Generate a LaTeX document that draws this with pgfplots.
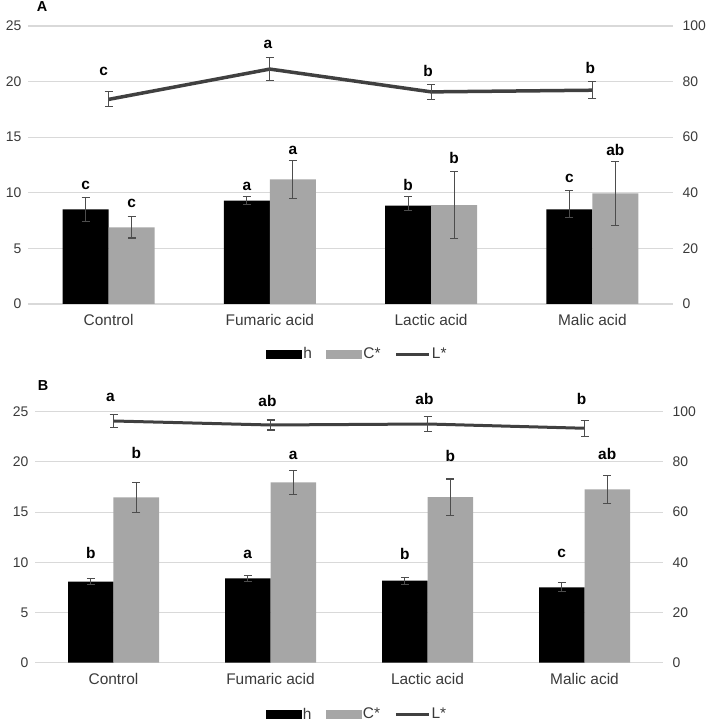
\documentclass[border=0pt]{standalone}
\usepackage{fontspec}
\setmainfont{Liberation Sans}
\usepackage{pgfplots}
\pgfplotsset{compat=1.18}
\definecolor{cgray}{HTML}{A6A6A6}
\definecolor{lgray}{HTML}{404040}
\definecolor{egray}{HTML}{4D4D4D}
\definecolor{gridc}{HTML}{D9D9D9}
\definecolor{tickc}{HTML}{3A3A3A}
\newcommand{\lf}{\bfseries\fontsize{15.5}{18}\selectfont}
\pgfplotsset{
  base/.style={scale only axis, xmin=-0.5, xmax=3.5, clip=false,
    axis line style={draw=none}, major tick length=0,
    tick label style={font=\fontsize{14}{16}\selectfont, text=tickc},
    /pgf/number format/assume math mode=true},
  leftax/.style={base, ymin=0, ymax=25, ytick={0,5,...,25},
    xtick={0,1,2,3}, xticklabels={Control,Fumaric acid,Lactic acid,Malic acid},
    xticklabel style={font=\fontsize{15.5}{18}\selectfont, yshift=-7bp},
    ymajorgrids, grid style={gridc, line width=1.1bp},
    yticklabel style={xshift=-3bp},
    legend columns=3,
    legend style={draw=none, font=\fontsize{15.5}{18}\selectfont, text=tickc, nodes={inner sep=1.2bp},
      /tikz/every even column/.append style={column sep=13bp}}},
  rightax/.style={base, ymin=0, ymax=100, ytick={0,20,...,100},
    axis y line*=right, axis x line=none, yticklabel style={xshift=6bp}},
  eb/.style={error bars/.cd, y dir=both, y explicit,
    error bar style={egray, line width=1.2bp},
    error mark options={egray, line width=1.2bp, mark size=4bp, rotate=90}},
  barleg/.style={legend image code/.code={\fill[##1] (0bp,-4.5bp) rectangle (36bp,4.5bp);}},
  lineleg/.style={legend image code/.code={\draw[##1] (0bp,0bp) -- (33bp,0bp);}}
}
\begin{document}
\begin{tikzpicture}
\useasboundingbox (0,0) rectangle (708bp,726bp);
% ---------------- Panel A ----------------
\begin{axis}[leftax, at={(28bp,422bp)}, anchor=south west, width=645bp, height=278bp,
  legend style={at={(0.51,-0.18)}, anchor=center}]
\addplot[ybar, bar width=46bp, bar shift=0bp, fill=black, draw=none, barleg, eb]
  coordinates {(-0.1426,8.5) +- (0,1.05) (0.8574,9.3) +- (0,0.35) (1.8574,8.85) += (0,0.8) -= (0,0.45) (2.8574,8.5) += (0,1.7) -= (0,0.7)};
\addlegendentry{h}
\addplot[ybar, bar width=46bp, bar shift=0bp, fill=cgray, draw=none, barleg, eb]
  coordinates {(0.1426,6.9) +- (0,0.97) (1.1426,11.2) +- (0,1.7) (2.1426,8.9) +- (0,3.0) (3.1426,9.95) +- (0,2.9)};
\addlegendentry{C*}
\addlegendimage{lgray, line width=3bp, lineleg}
\addlegendentry{L*}
\node[font=\lf, xshift=-23bp] at (axis cs:0,10.7) {c};
\node[font=\lf, xshift=23bp] at (axis cs:0,9.0) {c};
\node[font=\lf, xshift=-23bp] at (axis cs:1,10.6) {a};
\node[font=\lf, xshift=23bp] at (axis cs:1,13.85) {a};
\node[font=\lf, xshift=-23bp] at (axis cs:2,10.7) {b};
\node[font=\lf, xshift=23bp] at (axis cs:2,13.1) {b};
\node[font=\lf, xshift=-23bp] at (axis cs:3,11.25) {c};
\node[font=\lf, xshift=23bp] at (axis cs:3,13.85) {ab};
\end{axis}
\begin{axis}[rightax, at={(28bp,422bp)}, anchor=south west, width=645bp, height=278bp]
\addplot[lgray, line width=3.5bp, mark=none, eb]
  coordinates {(0,73.6) +- (0,2.7) (1,84.5) +- (0,4.2) (2,76.3) +- (0,2.7) (3,76.9) +- (0,3.0)};
\node[font=\lf, xshift=-5bp] at (axis cs:0,83.8) {c};
\node[font=\lf, xshift=-2bp] at (axis cs:1,93.5) {a};
\node[font=\lf, xshift=-3bp] at (axis cs:2,83.8) {b};
\node[font=\lf, xshift=-2bp] at (axis cs:3,84.9) {b};
\end{axis}
\node[font=\bfseries\fontsize{14.5}{17}\selectfont] at (42bp,719bp) {A};
% ---------------- Panel B ----------------
\begin{axis}[leftax, at={(35bp,63.3bp)}, anchor=south west, width=628bp, height=251bp,
  legend style={at={(0.512,-0.205)}, anchor=center}]
\addplot[ybar, bar width=45.5bp, bar shift=0bp, fill=black, draw=none, barleg, eb]
  coordinates {(-0.1449,8.07) +- (0,0.28) (0.8551,8.4) +- (0,0.3) (1.8551,8.17) +- (0,0.35) (2.8551,7.51) +- (0,0.45)};
\addlegendentry{h}
\addplot[ybar, bar width=45.5bp, bar shift=0bp, fill=cgray, draw=none, barleg, eb]
  coordinates {(0.1449,16.47) +- (0,1.5) (1.1449,17.97) +- (0,1.2) (2.1449,16.5) +- (0,1.8) (3.1449,17.27) +- (0,1.4)};
\addlegendentry{C*}
\addlegendimage{lgray, line width=3bp, lineleg}
\addlegendentry{L*}
\node[font=\lf, xshift=-22.75bp] at (axis cs:0,10.93) {b};
\node[font=\lf, xshift=22.75bp] at (axis cs:0,20.9) {b};
\node[font=\lf, xshift=-22.75bp] at (axis cs:1,10.83) {a};
\node[font=\lf, xshift=22.75bp] at (axis cs:1,20.6) {a};
\node[font=\lf, xshift=-22.75bp] at (axis cs:2,10.83) {b};
\node[font=\lf, xshift=22.75bp] at (axis cs:2,20.6) {b};
\node[font=\lf, xshift=-22.75bp] at (axis cs:3,10.93) {c};
\node[font=\lf, xshift=22.75bp] at (axis cs:3,20.8) {ab};
\end{axis}
\begin{axis}[rightax, at={(35bp,63.3bp)}, anchor=south west, width=628bp, height=251bp]
\addplot[lgray, line width=3bp, mark=none, eb]
  coordinates {(0,96.3) +- (0,2.5) (1,94.7) +- (0,2.0) (2,95.1) +- (0,3.1) (3,93.4) +- (0,3.2)};
\node[font=\lf, xshift=-3bp] at (axis cs:0,105.5) {a};
\node[font=\lf, xshift=-3bp] at (axis cs:1,104.3) {ab};
\node[font=\lf, xshift=-3bp] at (axis cs:2,105.1) {ab};
\node[font=\lf, xshift=-3bp] at (axis cs:3,105.1) {b};
\end{axis}
\node[font=\bfseries\fontsize{14.5}{17}\selectfont] at (43bp,340bp) {B};
\end{tikzpicture}
\end{document}
